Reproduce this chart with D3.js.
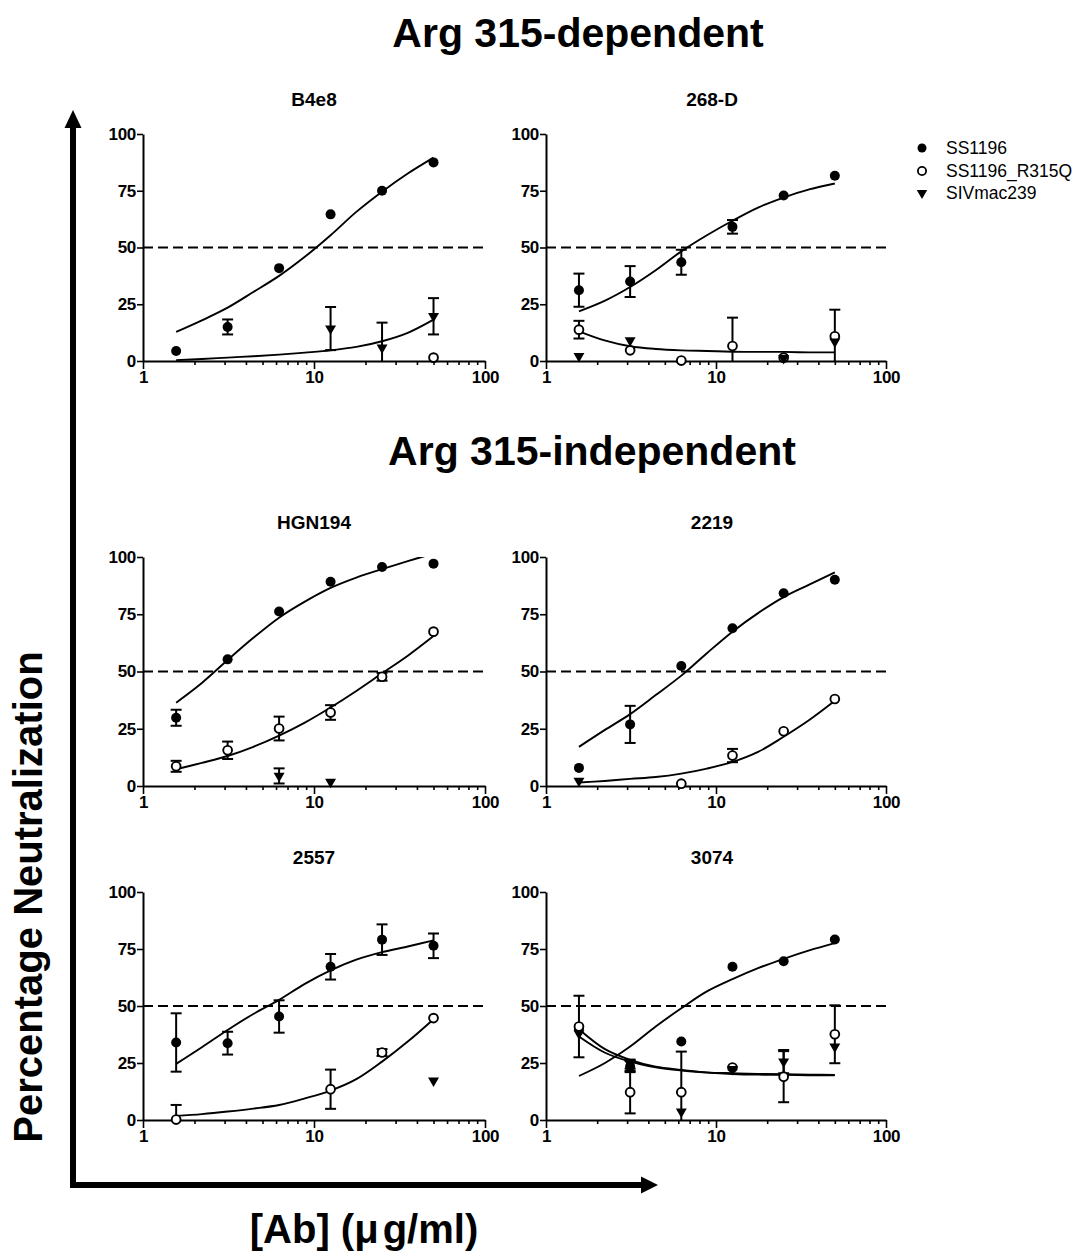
<!DOCTYPE html>
<html>
<head>
<meta charset="utf-8">
<script src="https://cdn.jsdelivr.net/npm/d3@7"></script>
<style>
  html, body { margin: 0; padding: 0; background: #fff; }
  svg text { font-family: "Liberation Sans", Arial, Helvetica, sans-serif; fill: #000; }
</style>
</head>
<body>
<svg id="chart" width="1083" height="1252"></svg>
<script>
// ---------- DATA ----------
const panelNames = ["B4e8", "268-D", "HGN194", "2219", "2557", "3074"];
const seriesNames = ["SS1196", "SS1196_R315Q", "SIVmac239"];
const groupTitles = ["Arg 315-dependent", "Arg 315-independent"];
const doses = [1.5625, 3.125, 6.25, 12.5, 25, 50];
const curveDoses = [1.5625, 2.2097, 3.125, 4.4194, 6.25, 8.8388, 12.5, 17.678, 25, 35.355, 50];
const yTicks = [0, 25, 50, 75, 100];
const xMajorTicks = [1, 10, 100];
const xMinorTicks = [2, 3, 4, 5, 6, 7, 8, 9, 20, 30, 40, 50, 60, 70, 80, 90];
const thresholdValue = 50;

// mean values per panel (null = not shown)
const ss1196 = [
  [4.4, 15, 40.9, 64.6, 75, 87.5],
  [31.2, 35, 43.5, 59.1, 72.9, 81.6],
  [29.8, 55.3, 76.2, 89.2, 95.6, 97.1],
  [7.9, 26.9, 52.4, 68.9, 84.2, 90.1],
  [34, 33.7, 45.4, 67.2, 79.1, 76.4],
  [40, 23.5, 34.4, 67.2, 69.6, 79.2]
];
const ss1196Err = [
  [0, 3.3, 0, 0, 0, 0],
  [7.3, 6.8, 5.5, 3, 0, 0],
  [3.5, 0, 0, 0, 0, 0],
  [0, 8.1, 0, 0, 0, 0],
  [12.8, 5, 7.1, 5.6, 6.7, 5.4],
  [0, 2.5, 0, 0, 0, 0]
];
const r315q = [
  [null, null, null, null, null, 1.5],
  [13.8, 4.7, 0.2, 6.6, 1.5, 10.9],
  [8.6, 15.6, 25.1, 32.1, 47.7, 67.4],
  [null, null, 1.0, 13.3, 23.9, 38],
  [0.2, null, null, 13.5, 29.6, 44.7],
  [41, 12.2, 12.2, 23, 19, 37.6]
];
const r315qErr = [
  [0, 0, 0, 0, 0, 0],
  [3.9, 0, 0, 12.5, 0, 11.7],
  [2.4, 3.8, 5.2, 3.2, 1.7, 0],
  [0, 0, 0, 2.9, 0, 0],
  [6.4, 0, 0, 8.6, 1.5, 0],
  [13.5, 9.3, 17.8, 0, 11.2, 12.7]
];
const siv = [
  [null, null, null, 14.3, 5.9, 19.7],
  [2.1, 9.1, null, null, 1.2, 8.5],
  [null, null, 4.4, 1.8, null, null],
  [2.2, null, null, null, null, null],
  [null, null, null, null, null, 17.3],
  [38, 24.5, 3.7, 22.3, 25.6, 32.2]
];
const sivErr = [
  [0, 0, 0, 9.5, 11, 8],
  [0, 0, 0, 0, 0, 0],
  [0, 0, 3.3, 0, 0, 0],
  [0, 0, 0, 0, 0, 0],
  [0, 0, 0, 0, 0, 0],
  [0, 2, 0, 0, 5.1, 0]
];

// fitted curves at curveDoses (null = no curve)
const ss1196Fit = [
  [12.8, 17.9, 23.5, 30.4, 37.5, 45.9, 55.4, 65.7, 74.6, 82.6, 89.6],
  [21.9, 26.5, 32.6, 40, 48.3, 55.4, 61.8, 67.6, 72, 75.6, 78.2],
  [36.4, 45, 55, 64.7, 73.5, 80.5, 86.5, 91, 94.7, 98.2, 101.5],
  [17.1, 24.4, 31.4, 39.7, 48.2, 58, 67.4, 75.5, 82.5, 87.9, 93.3],
  [24.6, 31.9, 39.5, 46.5, 52.7, 59.7, 65.6, 70.3, 73.6, 76.1, 78.8],
  [19.3, 24.9, 32.2, 41, 49, 56.4, 61.8, 66.6, 70.7, 74.4, 77.6]
];
const r315qFit = [
  null,
  [13.1, 9.1, 6.5, 5.3, 4.7, 4.4, 4.1, 4.0, 4.0, 3.8, 3.8],
  [7.3, 10.1, 13.1, 17.1, 22, 27.7, 34.3, 41.5, 49.2, 56.9, 65.5],
  [1.5, 2.2, 3.1, 3.9, 5.4, 7.6, 10.5, 14.9, 21.5, 28.8, 37.2],
  [1.8, 2.6, 3.7, 5.0, 6.6, 9.5, 12.9, 17.9, 25.6, 34.4, 44.2],
  [39.8, 31.2, 26.4, 23.4, 22, 20.9, 20.5, 20.2, 20.1, 19.9, 19.8]
];
const sivFit = [
  [0.4, 0.9, 1.5, 2.1, 2.8, 3.7, 4.7, 6.2, 8.7, 12.4, 18.2],
  null,
  null,
  null,
  null,
  [36.6, 29.6, 25.6, 23.1, 21.7, 20.8, 20.2, 19.9, 19.8, 19.6, 19.6]
];

// ---------- LAYOUT ----------
const svg = d3.select("#chart");
const FONT = '"Liberation Sans", Arial, Helvetica, sans-serif';
const cols = [[143, 485], [546, 886]];
const rows = [[134, 361], [557, 786], [892, 1120]];
const titleCenters = [314, 712];

// group titles
svg.append("text").attr("x", 578).attr("y", 47).attr("text-anchor", "middle")
  .style("font-size", "41px").style("font-weight", "bold").text(groupTitles[0]);
svg.append("text").attr("x", 592).attr("y", 465).attr("text-anchor", "middle")
  .style("font-size", "41px").style("font-weight", "bold").text(groupTitles[1]);

const defs = svg.append("defs");

function drawPanel(i) {
  const c = cols[i % 2], r = rows[Math.floor(i / 2)];
  const x = d3.scaleLog().domain([1, 100]).range(c);
  const y = d3.scaleLinear().domain([0, 100]).range([r[1], r[0]]);
  const g = svg.append("g");

  const clipId = "clip" + i;
  defs.append("clipPath").attr("id", clipId).append("rect")
    .attr("x", c[0]).attr("y", y(100)).attr("width", c[1] - c[0]).attr("height", y(0) - y(100) + 1);

  g.append("text").attr("x", titleCenters[i % 2]).attr("y", r[0] - 28)
    .attr("text-anchor", "middle").style("font-size", "19px").style("font-weight", "bold")
    .text(panelNames[i]);

  g.append("line").attr("x1", x(1)).attr("x2", x(100))
    .attr("y1", y(thresholdValue)).attr("y2", y(thresholdValue))
    .attr("stroke", "#000").attr("stroke-width", 2).attr("stroke-dasharray", "10,5");

  const yAxis = g.append("g").attr("transform", `translate(${c[0]},0)`)
    .call(d3.axisLeft(y).tickValues(yTicks).tickSize(6).tickSizeOuter(0).tickPadding(1));
  const xMinor = g.append("g").attr("transform", `translate(0,${r[1]})`)
    .call(d3.axisBottom(x).tickValues(xMinorTicks).tickSize(4).tickSizeOuter(0).tickFormat(""));
  xMinor.select(".domain").remove();
  const xAxis = g.append("g").attr("transform", `translate(0,${r[1]})`)
    .call(d3.axisBottom(x).tickValues(xMajorTicks).tickSize(8).tickSizeOuter(0).tickPadding(2).tickFormat(d3.format("d")));
  [yAxis, xAxis, xMinor].forEach(a => {
    a.attr("font-size", null).attr("font-family", null);
    a.selectAll(".domain").attr("stroke", "#000").attr("stroke-width", 2);
    a.selectAll(".tick line").attr("stroke", "#000").attr("stroke-width", 1.6);
    a.selectAll("text").style("font-family", FONT).style("font-size", "17px")
      .style("font-weight", "bold").style("fill", "#000").style("letter-spacing", "-0.3px");
  });

  const line = d3.line().x(d => x(d[0])).y(d => y(d[1])).curve(d3.curveCatmullRom.alpha(0.5));
  const cg = g.append("g").attr("clip-path", `url(#${clipId})`);
  [ss1196Fit[i], r315qFit[i], sivFit[i]].forEach(fit => {
    if (!fit) return;
    cg.append("path").datum(curveDoses.map((d, k) => [d, fit[k]]))
      .attr("d", line).attr("fill", "none").attr("stroke", "#000").attr("stroke-width", 1.9);
  });

  const sets = [
    { vals: ss1196[i], errs: ss1196Err[i], type: "filled" },
    { vals: r315q[i], errs: r315qErr[i], type: "open" },
    { vals: siv[i], errs: sivErr[i], type: "tri" }
  ];
  const eg = g.append("g").attr("clip-path", `url(#${clipId})`);
  sets.forEach(s => {
    doses.forEach((d, k) => {
      const v = s.vals[k], e = s.errs[k];
      if (v === null || !e) return;
      const px = x(d);
      eg.append("line").attr("x1", px).attr("x2", px).attr("y1", y(v + e)).attr("y2", y(v - e))
        .attr("stroke", "#000").attr("stroke-width", 2);
      [v + e, v - e].forEach(t => {
        eg.append("line").attr("x1", px - 5.5).attr("x2", px + 5.5).attr("y1", y(t)).attr("y2", y(t))
          .attr("stroke", "#000").attr("stroke-width", 2);
      });
    });
  });
  const mg = g.append("g");
  const tri = d3.symbol(d3.symbolTriangle, 52);
  sets.forEach(s => {
    doses.forEach((d, k) => {
      const v = s.vals[k];
      if (v === null) return;
      const px = x(d), py = y(v);
      if (s.type === "filled") {
        mg.append("circle").attr("cx", px).attr("cy", py).attr("r", 5).attr("fill", "#000");
      } else if (s.type === "open") {
        mg.append("circle").attr("cx", px).attr("cy", py).attr("r", 4.4)
          .attr("fill", "#fff").attr("stroke", "#000").attr("stroke-width", 1.9);
      } else {
        mg.append("path").attr("d", tri).attr("transform", `translate(${px},${py}) rotate(180)`).attr("fill", "#000");
      }
    });
  });
}
panelNames.forEach((n, i) => drawPanel(i));

// legend
const lg = svg.append("g");
const legY = [148, 171, 193];
lg.append("circle").attr("cx", 922).attr("cy", legY[0]).attr("r", 4.5).attr("fill", "#000");
lg.append("circle").attr("cx", 922).attr("cy", legY[1]).attr("r", 4.1).attr("fill", "#fff").attr("stroke", "#000").attr("stroke-width", 1.8);
lg.append("path").attr("d", d3.symbol(d3.symbolTriangle, 48)).attr("transform", `translate(922,${legY[2]}) rotate(180)`).attr("fill", "#000");
seriesNames.forEach((n, k) => {
  lg.append("text").attr("x", 946).attr("y", legY[k]).attr("dy", "0.36em")
    .style("font-size", "17.5px").text(n);
});

// big arrows
const arrows = svg.append("g");
arrows.append("line").attr("x1", 73).attr("x2", 73).attr("y1", 1188).attr("y2", 124)
  .attr("stroke", "#000").attr("stroke-width", 6);
arrows.append("path").attr("d", "M73,110 L64.5,128 L81.5,128 Z").attr("fill", "#000");
arrows.append("line").attr("x1", 70).attr("x2", 644).attr("y1", 1185).attr("y2", 1185)
  .attr("stroke", "#000").attr("stroke-width", 6);
arrows.append("path").attr("d", "M658,1185 L641,1176.5 L641,1193.5 Z").attr("fill", "#000");

// axis titles
svg.append("text").attr("transform", "translate(42,897) rotate(-90)").attr("text-anchor", "middle")
  .style("font-size", "40px").style("font-weight", "bold").text("Percentage Neutralization");
const xt = svg.append("text").attr("x", 364).attr("y", 1243).attr("text-anchor", "middle")
  .style("font-size", "40px").style("font-weight", "bold");
xt.append("tspan").text("[Ab] (μ");
xt.append("tspan").attr("dx", 4).text("g/ml)");
</script>
</body>
</html>
